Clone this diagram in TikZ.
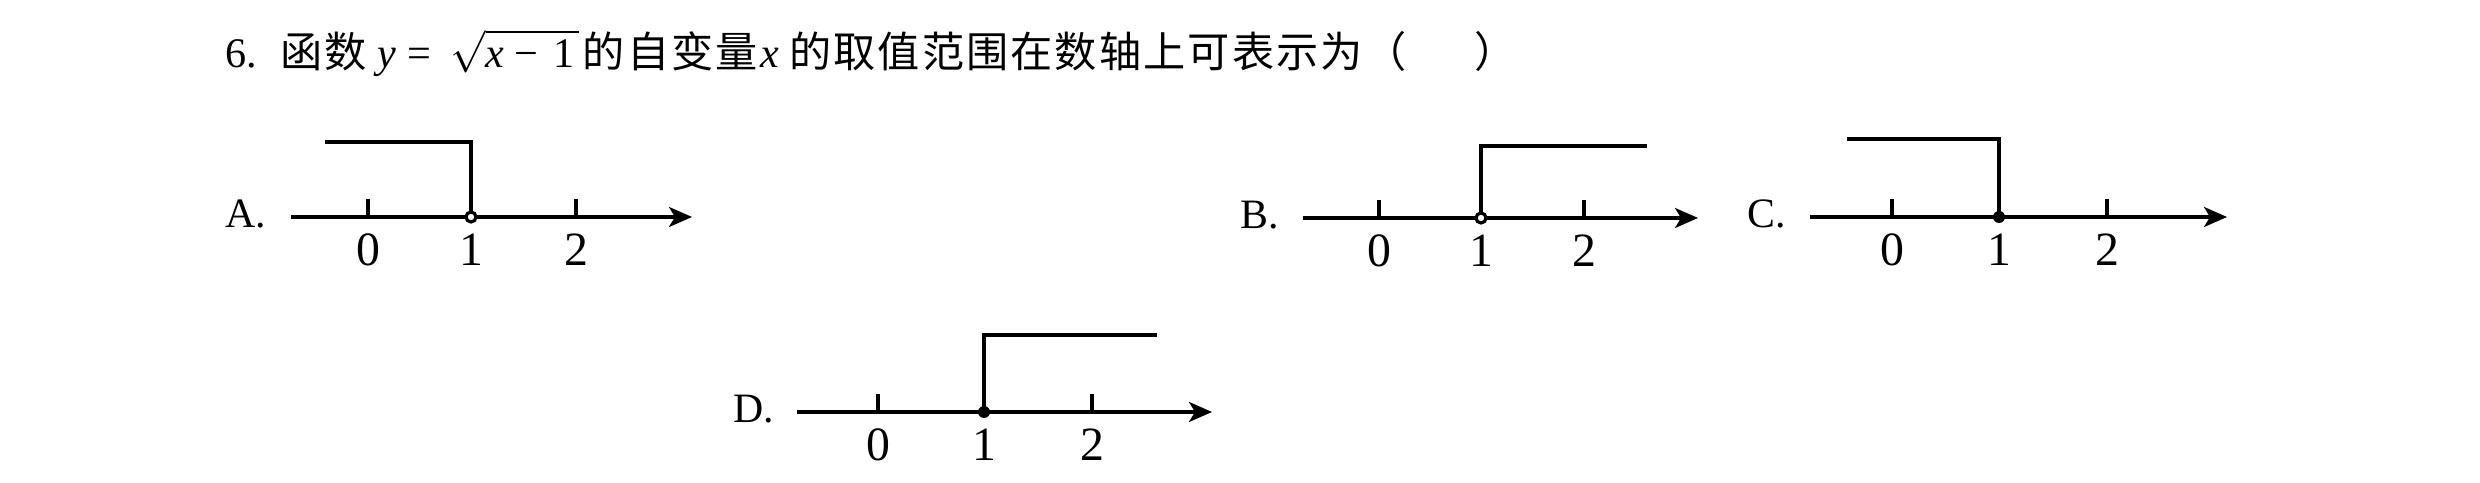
\documentclass[tikz,border=0pt]{standalone}
\usepackage{fontspec}
\setmainfont{Liberation Serif}
\newfontfamily\cjk[LetterSpace=5]{Noto Sans CJK SC}
\usetikzlibrary{arrows.meta}
\tikzset{
    axis/.style={line width=0.9pt, -{Stealth[length=2.3mm, width=2mm, inset=0.6mm]}},
    rng/.style={line width=0.9pt},
    tickmark/.style={line width=0.9pt},
    num/.style={anchor=base, inner sep=0pt, font=\fontsize{13.6}{16}\selectfont},
    opt/.style={anchor=base west, inner sep=0pt, font=\fontsize{11.9}{14}\selectfont},
    hollow/.style={circle, draw, fill=white, line width=0.9pt, inner sep=0pt, minimum size=1mm},
    dot/.style={circle, fill, inner sep=0pt, minimum size=1.2mm}
}
\begin{document}
\begin{tikzpicture}
    \useasboundingbox (0,0) rectangle (24.8,-4.83);

    \node[opt, font=\fontsize{12}{14}\selectfont] (title) at (2.25,-0.68)
        {6.\hspace{0.55em}{\cjk 函数}\hspace{0.25em}\textit{y}\hspace{0.27em}=\hspace{0.45em}$\sqrt{\hbox{\textit{x}\hspace{0.25em}−\hspace{0.35em}1\hspace{0.1em}}}$\hspace{0.1em}{\cjk 的自变量}\hspace{0.05em}\textit{x}\hspace{0.25em}{\cjk 的取值范围在数轴上可表示为（}\hspace{1.6em}{\cjk ）}};

    % A
    \node[opt] (la) at (2.25,-2.28) {A.};
    \coordinate (as) at (2.91,-2.17);
    \coordinate (ae) at (6.92,-2.17);
    \coordinate (a0) at (3.68,-2.17);
    \coordinate (a1) at (4.71,-2.17);
    \coordinate (a2) at (5.76,-2.17);
    \coordinate (ab) at (3.25,-1.42);
    \draw[axis] (as) -- (ae);
    \draw[tickmark] (a0) -- ++(0,0.18);
    \draw[tickmark] (a2) -- ++(0,0.18);
    \draw[rng] (a1) |- (ab);
    \node[hollow] (ap) at (a1) {};
    \node[num] (a0n) at (3.68,-2.66) {0};
    \node[num] (a1n) at (4.71,-2.66) {1};
    \node[num] (a2n) at (5.76,-2.66) {2};

    % B
    \node[opt] (lb) at (12.40,-2.29) {B.};
    \coordinate (bs) at (13.03,-2.18);
    \coordinate (be) at (16.98,-2.18);
    \coordinate (b0) at (13.79,-2.18);
    \coordinate (b1) at (14.81,-2.18);
    \coordinate (b2) at (15.84,-2.18);
    \coordinate (bb) at (16.47,-1.46);
    \draw[axis] (bs) -- (be);
    \draw[tickmark] (b0) -- ++(0,0.18);
    \draw[tickmark] (b2) -- ++(0,0.18);
    \draw[rng] (b1) |- (bb);
    \node[hollow] (bp) at (b1) {};
    \node[num] (b0n) at (13.79,-2.67) {0};
    \node[num] (b1n) at (14.81,-2.67) {1};
    \node[num] (b2n) at (15.84,-2.67) {2};

    % C
    \node[opt] (lc) at (17.47,-2.28) {C.};
    \coordinate (cs) at (18.10,-2.17);
    \coordinate (ce) at (22.27,-2.17);
    \coordinate (c0) at (18.92,-2.17);
    \coordinate (c1) at (19.99,-2.17);
    \coordinate (c2) at (21.07,-2.17);
    \coordinate (cb) at (18.47,-1.39);
    \draw[axis] (cs) -- (ce);
    \draw[tickmark] (c0) -- ++(0,0.18);
    \draw[tickmark] (c2) -- ++(0,0.18);
    \draw[rng] (c1) |- (cb);
    \node[dot] (cp) at (c1) {};
    \node[num] (c0n) at (18.92,-2.66) {0};
    \node[num] (c1n) at (19.99,-2.66) {1};
    \node[num] (c2n) at (21.07,-2.66) {2};

    % D
    \node[opt] (ld) at (7.33,-4.23) {D.};
    \coordinate (ds) at (7.97,-4.12);
    \coordinate (de) at (12.12,-4.12);
    \coordinate (d0) at (8.78,-4.12);
    \coordinate (d1) at (9.84,-4.12);
    \coordinate (d2) at (10.92,-4.12);
    \coordinate (db) at (11.57,-3.35);
    \draw[axis] (ds) -- (de);
    \draw[tickmark] (d0) -- ++(0,0.18);
    \draw[tickmark] (d2) -- ++(0,0.18);
    \draw[rng] (d1) |- (db);
    \node[dot] (dp) at (d1) {};
    \node[num] (d0n) at (8.78,-4.61) {0};
    \node[num] (d1n) at (9.84,-4.61) {1};
    \node[num] (d2n) at (10.92,-4.61) {2};
\end{tikzpicture}
\end{document}
